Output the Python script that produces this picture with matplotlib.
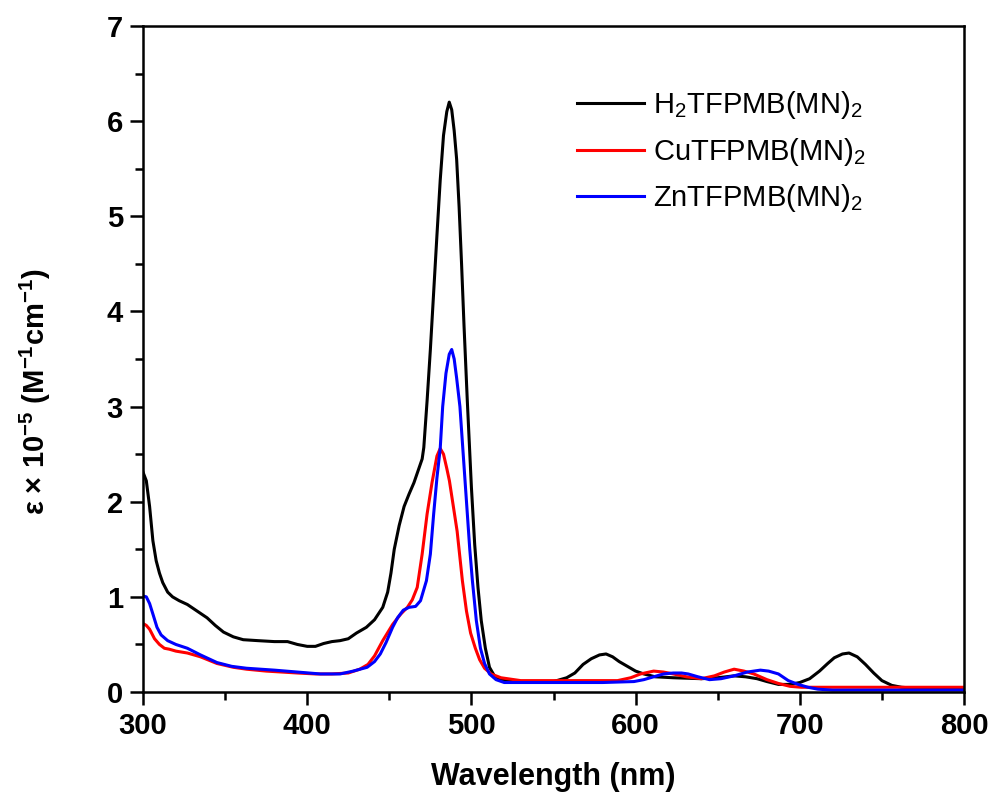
import numpy as np
import matplotlib
matplotlib.use('Agg')
import matplotlib.pyplot as plt

plt.rcParams['font.family'] = ['Liberation Sans', 'DejaVu Sans']
plt.rcParams['mathtext.fontset'] = 'custom'
plt.rcParams['mathtext.rm'] = 'Liberation Sans'
plt.rcParams['mathtext.bf'] = 'Liberation Sans:bold'
plt.rcParams['mathtext.default'] = 'regular'

# absorption spectra, wavelength (nm) vs epsilon x 1e-5 (M^-1 cm^-1)
wl_h2 = [300, 302, 304, 306, 308, 310, 312, 315, 318, 322, 327, 333, 339, 344,
         349, 355, 361, 370, 380, 388, 394, 400, 405, 410, 415, 420, 425, 430,
         436, 441, 446, 449, 451, 453, 456, 459, 462, 465, 468, 470, 471, 473,
         475, 477, 479, 481, 483, 485, 486.5, 488, 489.5, 491, 492.5, 494,
         495.5, 497.5, 500, 502, 504, 506, 508.5, 511, 514, 518, 525, 540, 550,
         558, 563, 568, 573, 578, 582, 586, 590, 595, 600, 605, 612, 623, 640,
         650, 660, 667, 674, 680, 687, 694, 700, 706, 712, 717, 721, 726, 730,
         735, 740, 745, 750, 756, 762, 770, 800]
eps_h2 = [2.31, 2.22, 1.95, 1.59, 1.38, 1.25, 1.15, 1.05, 1.00, 0.96, 0.92, 0.85,
          0.78, 0.70, 0.63, 0.58, 0.55, 0.54, 0.53, 0.53, 0.50, 0.48, 0.48, 0.51,
          0.53, 0.54, 0.56, 0.62, 0.68, 0.76, 0.89, 1.05, 1.25, 1.50, 1.75, 1.95,
          2.08, 2.20, 2.35, 2.45, 2.57, 3.06, 3.60, 4.20, 4.80, 5.38, 5.85, 6.10,
          6.20, 6.12, 5.90, 5.60, 5.10, 4.50, 3.85, 3.06, 2.15, 1.55, 1.10, 0.75,
          0.46, 0.26, 0.17, 0.13, 0.11, 0.11, 0.11, 0.15, 0.20, 0.29, 0.35, 0.39,
          0.40, 0.37, 0.32, 0.27, 0.22, 0.19, 0.16, 0.15, 0.14, 0.15, 0.17, 0.16,
          0.14, 0.11, 0.08, 0.08, 0.10, 0.14, 0.22, 0.30, 0.36, 0.40, 0.41, 0.37,
          0.29, 0.20, 0.12, 0.07, 0.05, 0.04, 0.04]

wl_cu = [300, 302, 304, 307, 310, 313, 316, 320, 327, 335, 345, 355, 363, 375,
         394, 405, 415, 425, 432, 437, 441, 446, 452, 457, 461, 464, 467, 470,
         473, 476, 479, 481, 483, 485, 486.6, 489, 491.3, 494.5, 497, 499.5,
         502.4, 505, 508, 512, 518, 530, 550, 570, 589, 597, 603, 611, 617, 623,
         631, 640, 648, 654, 660, 666, 672, 680, 687, 694, 701, 800]
eps_cu = [0.72, 0.70, 0.66, 0.56, 0.50, 0.46, 0.45, 0.43, 0.41, 0.37, 0.30, 0.26,
          0.24, 0.22, 0.20, 0.19, 0.19, 0.20, 0.24, 0.29, 0.38, 0.54, 0.71, 0.82,
          0.89, 0.97, 1.10, 1.45, 1.87, 2.20, 2.48, 2.56, 2.50, 2.35, 2.22, 1.95,
          1.69, 1.17, 0.85, 0.62, 0.46, 0.34, 0.25, 0.19, 0.15, 0.12, 0.12, 0.12,
          0.12, 0.15, 0.19, 0.22, 0.21, 0.19, 0.16, 0.14, 0.17, 0.21, 0.24, 0.22,
          0.19, 0.13, 0.09, 0.06, 0.05, 0.05]

wl_zn = [300, 302, 304, 306, 308.5, 311, 315, 320, 327, 335, 345, 354, 363, 380,
         394, 408, 420, 428, 436.5, 441, 444.5, 448, 452, 455, 458.5, 462, 466,
         469, 472.6, 475, 477, 479, 481, 482.5, 484.5, 486.5, 488, 489.5, 491,
         493, 495, 497, 499, 500.6, 503, 505.5, 508, 511, 515, 520, 540, 558,
         580, 599, 605, 611, 617, 623, 628, 632, 638, 645, 652, 660, 668, 676,
         681, 687, 693, 699, 705, 711, 720, 800]
eps_zn = [1.01, 1.00, 0.93, 0.82, 0.68, 0.60, 0.54, 0.50, 0.46, 0.39, 0.31, 0.27,
          0.25, 0.23, 0.21, 0.19, 0.19, 0.22, 0.26, 0.32, 0.40, 0.52, 0.68, 0.78,
          0.86, 0.89, 0.90, 0.96, 1.17, 1.45, 1.87, 2.25, 2.56, 3.00, 3.35, 3.55,
          3.60, 3.50, 3.30, 3.00, 2.50, 2.00, 1.50, 1.17, 0.75, 0.46, 0.30, 0.19,
          0.13, 0.10, 0.10, 0.10, 0.10, 0.11, 0.13, 0.16, 0.19, 0.20, 0.20, 0.19,
          0.16, 0.13, 0.14, 0.17, 0.21, 0.23, 0.22, 0.19, 0.12, 0.08, 0.05, 0.03,
          0.02, 0.02]

labels = ['H$_2$TFPMB(MN)$_2$', 'CuTFPMB(MN)$_2$', 'ZnTFPMB(MN)$_2$']
colors = ['black', '#ff0000', '#0000ff']

fig = plt.figure(figsize=(9.94, 7.98), dpi=100)
ax = fig.add_axes([0.1439, 0.1328, 0.8259, 0.8346])

for wl, eps, lab, col in zip([wl_h2, wl_cu, wl_zn], [eps_h2, eps_cu, eps_zn], labels, colors):
    ax.plot(wl, eps, color=col, lw=2.2, label=lab, solid_joinstyle='round')

ax.set_xlim(300, 800)
ax.set_ylim(0, 7)
ax.set_xticks(np.arange(300, 801, 100))
ax.set_xticks(np.arange(350, 800, 100), minor=True)
ax.set_yticks(np.arange(0, 8, 1))
ax.set_yticks(np.arange(0.5, 7, 1), minor=True)

for sp in ax.spines.values():
    sp.set_linewidth(1.8)
ax.tick_params(which='major', direction='out', length=9.5, width=1.8,
               labelsize=21, pad=5)
ax.tick_params(which='minor', direction='out', length=5.5, width=1.8)
ax.tick_params(top=False, right=False)
for lbl in ax.get_xticklabels() + ax.get_yticklabels():
    lbl.set_fontweight('bold')

ax.set_xlabel('Wavelength (nm)', fontsize=22, fontweight='bold', labelpad=16)
fig.text(35 / 994, 1 - 392 / 798,
         r'ε × 10$^{\mathbf{-5}}$ (M$^{\mathbf{-1}}$cm$^{\mathbf{-1}}$)',
         rotation=90, ha='center', va='center', fontsize=21, fontweight='bold')

ax.legend(loc='upper left', bbox_to_anchor=(0.5286, 0.905), frameon=False,
          fontsize=21, handlelength=2.3, handletextpad=0.3, labelspacing=0.5,
          borderpad=0, borderaxespad=0)

fig.savefig('out.png', dpi=100)
